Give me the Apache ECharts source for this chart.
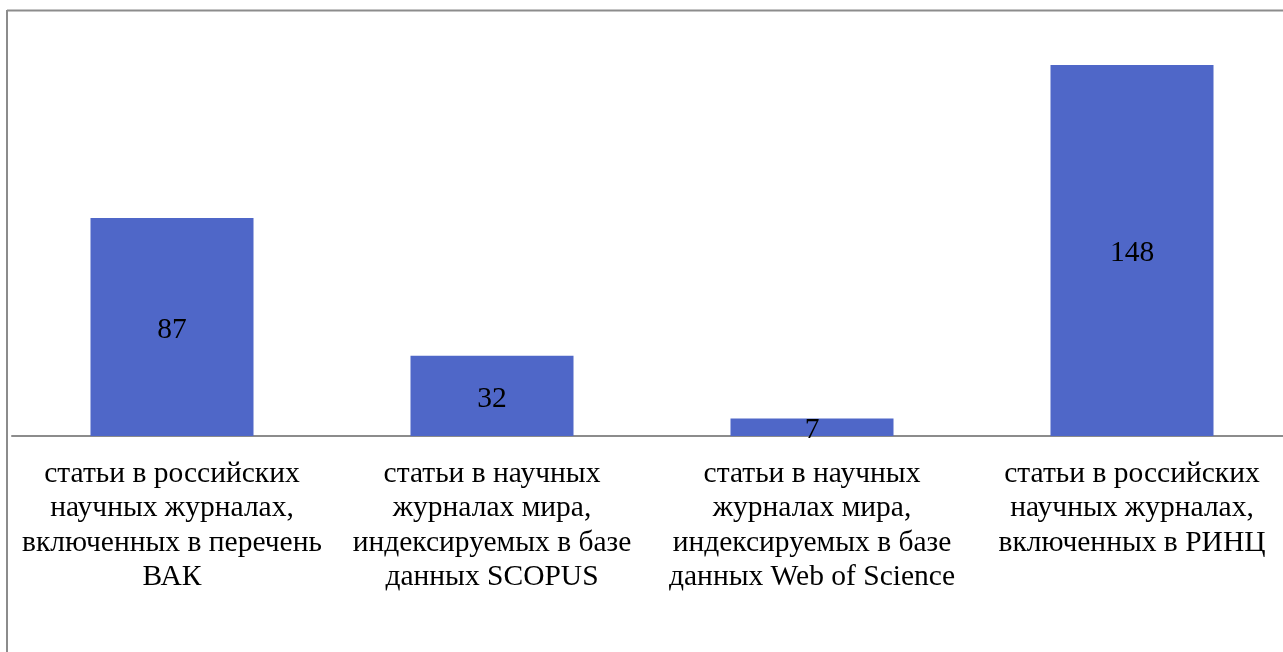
<!DOCTYPE html>
<html><head><meta charset="utf-8">
<script src="https://cdn.jsdelivr.net/npm/echarts@6/dist/echarts.min.js"></script>
<style>html,body{margin:0;padding:0;background:#fff;overflow:hidden;}#c{width:1300px;height:652px;}</style>
</head><body><div id="c"></div>
<script>
const categories = [
  'статьи в российских\nнаучных журналах,\nвключенных в перечень\nВАК',
  'статьи в научных\nжурналах мира,\nиндексируемых в базе\nданных SCOPUS',
  'статьи в научных\nжурналах мира,\nиндексируемых в базе\nданных Web of Science',
  'статьи в российских\nнаучных журналах,\nвключенных в РИНЦ'
];
const values = [87, 32, 7, 148];

const chart = echarts.init(document.getElementById('c'), null, {renderer: 'canvas'});
chart.setOption({
  animation: false,
  backgroundColor: '#fff',
  textStyle: {fontFamily: 'Liberation Serif'},
  grid: {left: 12, top: 35, width: 1280, height: 401, containLabel: false},
  xAxis: {
    type: 'category', data: categories,
    axisLine: {show: true, lineStyle: {color: '#8c8c8c', width: 2}},
    axisTick: {show: false},
    axisLabel: {color: '#000', fontSize: 29.5, lineHeight: 34.4, margin: 21, interval: 0, fontFamily: 'Liberation Serif'}
  },
  yAxis: {type: 'value', min: 0, max: 160, show: false, splitLine: {show: false}},
  series: [{
    type: 'bar', data: values, barWidth: 163,
    itemStyle: {color: '#4F67C8'},
    label: {show: true, position: 'inside', offset: [0, 3], color: '#000', fontSize: 29.5, fontFamily: 'Liberation Serif'}
  }],
  graphic: [
    {type: 'line', shape: {x1: 7, y1: 10.5, x2: 1300, y2: 10.5}, style: {stroke: '#8c8c8c', lineWidth: 2}},
    {type: 'line', shape: {x1: 7, y1: 10, x2: 7, y2: 652}, style: {stroke: '#8c8c8c', lineWidth: 2}}
  ]
});
</script></body></html>
